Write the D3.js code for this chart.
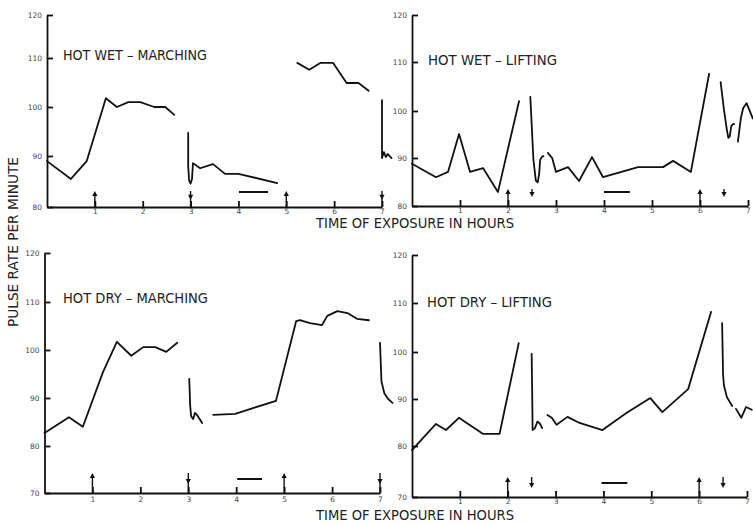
<!DOCTYPE html>
<meta charset="utf-8">
<script src="https://d3js.org/d3.v7.min.js"></script>
<style>
    body { margin: 0; background: #fff; }
    .tick text { font-family: "DejaVu Sans", sans-serif; font-size: 7.5px; fill: #444; }
    .trace { fill: none; stroke: #111; stroke-width: 1.8; stroke-linejoin: round; stroke-linecap: round; }
    .lbl { font-family: "DejaVu Sans", sans-serif; fill: #222; }
</style>
<div id="vis"></div>
<script>
    // tick values
    var hourTicks = [1, 2, 3, 4, 5, 6, 7];
    var pulseTicksWet = [80, 90, 100, 110, 120];
    var pulseTicksDry = [70, 80, 90, 100, 110, 120];

    // pulse traces, one list of pen strokes per panel, points are [hour, pulse]
    var hotWetMarching = [
        [[0, 89.0], [0.5, 85.5], [0.83, 89.0], [1.23, 101.8], [1.46, 100], [1.7, 101], [1.95, 101], [2.24, 100], [2.47, 100], [2.66, 98.4]],
        [[2.95, 94.7], [2.95, 88], [2.97, 85.2], [3.0, 84.6], [3.03, 85.5], [3.05, 88.6], [3.2, 87.6], [3.47, 88.4], [3.72, 86.5], [4.0, 86.5], [4.81, 84.7]],
        [[5.23, 109.0], [5.48, 107.6], [5.71, 109.0], [5.98, 109.0], [6.26, 104.9], [6.51, 104.9], [6.72, 103.3]],
        [[7.0, 101.4], [7.0, 89.6], [7.04, 90.8], [7.08, 89.8], [7.12, 90.4], [7.2, 89.6]]
    ];
    var hotWetLifting = [
        [[0, 88.8], [0.5, 86.0], [0.75, 87.1], [0.98, 95.1], [1.21, 87.1], [1.48, 87.9], [1.79, 82.9], [2.23, 102.0]],
        [[2.465, 102.9], [2.53, 89.6], [2.58, 85.3], [2.62, 84.9], [2.65, 86.8], [2.67, 89.6], [2.71, 90.3], [2.74, 90.4]],
        [[2.83, 91.1], [2.92, 90], [3.0, 87.1], [3.25, 88.1], [3.48, 85.2], [3.75, 90.2], [3.98, 86.0], [4.71, 88.1], [5.23, 88.1], [5.44, 89.4], [5.81, 87.1], [6.19, 107.6]],
        [[6.43, 105.9], [6.5, 100.2], [6.56, 96.0], [6.59, 94.3], [6.62, 94.6], [6.65, 96.7], [6.68, 97.2], [6.71, 97.2]],
        [[6.79, 93.5], [6.85, 98.4], [6.9, 100.6], [6.97, 101.6], [7.1, 98.4]]
    ];
    var hotDryMarching = [
        [[0, 82.7], [0.51, 86.0], [0.8, 84.0], [1.22, 95.4], [1.51, 101.7], [1.81, 98.8], [2.06, 100.6], [2.31, 100.6], [2.54, 99.6], [2.77, 101.5]],
        [[3.02, 94.0], [3.04, 88.3], [3.06, 86.2], [3.1, 85.6], [3.14, 86.9], [3.18, 86.5], [3.29, 84.8]],
        [[3.52, 86.5], [3.98, 86.7], [4.35, 87.9], [4.83, 89.4], [5.25, 106.0], [5.33, 106.2], [5.54, 105.6], [5.79, 105.2], [5.9, 107.1], [6.11, 108.1], [6.32, 107.7], [6.52, 106.5], [6.77, 106.2]],
        [[7.0, 101.5], [7.03, 93.5], [7.09, 91.0], [7.17, 89.8], [7.26, 89.0]]
    ];
    var hotDryLifting = [
        [[0, 79.2], [0.5, 84.7], [0.71, 83.4], [0.98, 86.0], [1.48, 82.6], [1.83, 82.6], [2.23, 101.8]],
        [[2.5, 99.6], [2.51, 92.6], [2.52, 83.4], [2.57, 83.8], [2.62, 85.2], [2.67, 84.8], [2.72, 83.8]],
        [[2.83, 86.6], [2.92, 86.0], [3.02, 84.5], [3.25, 86.2], [3.5, 84.9], [3.98, 83.4], [4.48, 87.0], [4.98, 90.2], [5.23, 87.2], [5.77, 92.1], [6.25, 108.2]],
        [[6.48, 105.9], [6.5, 95.1], [6.52, 92.8], [6.58, 90.4], [6.69, 88.5]],
        [[6.77, 87.9], [6.88, 86.0], [6.98, 88.3], [7.1, 87.7]]
    ];

    // arrows (start / stop of work) and the rest bar, in hours
    var wetMarchUp = [1, 5], wetMarchDown = [3, 7], wetMarchBar = [4.01, 4.62];
    var wetLiftUp = [2, 6], wetLiftDown = [2.5, 6.5], wetLiftBar = [4.0, 4.54];
    var dryMarchUp = [1, 5], dryMarchDown = [3, 7], dryMarchBar = [4.02, 4.54];
    var dryLiftUp = [2, 6], dryLiftDown = [2.5, 6.5], dryLiftBar = [3.96, 4.5];

    var W = 753, H = 524;
    var svg = d3.select("#vis").append("svg")
        .attr("width", W).attr("height", H);

    // hand drawn axes are not quite even, so the y range is given per tick
    var panels = [
        { title: "HOT WET \u2013 MARCHING", data: hotWetMarching, ups: wetMarchUp, downs: wetMarchDown, bar: wetMarchBar,
          yt: pulseTicksWet, xr: [47, 382], yr: [207, 156, 107, 58, 15], tx: 63, ty: 60, tw: 144, arr: 16, barOff: 15, pad: 2 },
        { title: "HOT WET \u2013 LIFTING", data: hotWetLifting, ups: wetLiftUp, downs: wetLiftDown, bar: wetLiftBar,
          yt: pulseTicksWet, xr: [412, 748], yr: [206, 158, 111, 62, 15], tx: 428, ty: 65, tw: 129, arr: 17, barOff: 14, pad: 2 },
        { title: "HOT DRY \u2013 MARCHING", data: hotDryMarching, ups: dryMarchUp, downs: dryMarchDown, bar: dryMarchBar,
          yt: pulseTicksDry, xr: [44.5, 380], yr: [493, 446, 398, 350, 302, 253], tx: 63, ty: 303, tw: 145, arr: 20, barOff: 14, pad: 4 },
        { title: "HOT DRY \u2013 LIFTING", data: hotDryLifting, ups: dryLiftUp, downs: dryLiftDown, bar: dryLiftBar,
          yt: pulseTicksDry, xr: [412, 747], yr: [497, 446, 399, 352, 303, 255], tx: 427, ty: 307, tw: 125, arr: 20, barOff: 14, pad: 2 }
    ];

    panels.forEach(function (p) {
        var x = d3.scaleLinear().domain([0, 7]).range(p.xr);
        var y = d3.scaleLinear().domain(p.yt).range(p.yr);
        var g = svg.append("g");
        var base = p.yr[0];

        // axes
        g.append("g")
            .attr("transform", "translate(0," + base + ")")
            .call(d3.axisBottom(x).tickValues(hourTicks).tickFormat(d3.format("d"))
                .tickSizeInner(-6).tickSizeOuter(0).tickPadding(p.pad));
        g.append("g")
            .attr("transform", "translate(" + p.xr[0] + ",0)")
            .call(d3.axisLeft(y).tickValues(p.yt).tickFormat(d3.format("d"))
                .tickSizeInner(-6).tickSizeOuter(0).tickPadding(5));
        g.selectAll(".domain, .tick line").attr("stroke", "#111").attr("stroke-width", 1.8);

        // traces
        var line = d3.line()
            .x(function (d) { return x(d[0]); })
            .y(function (d) { return y(d[1]); });
        g.selectAll(".trace").data(p.data).enter()
            .append("path")
            .attr("class", "trace")
            .attr("d", line);

        // up arrows
        p.ups.forEach(function (h) {
            var cx = x(h), top = base - p.arr;
            g.append("line").attr("x1", cx).attr("x2", cx).attr("y1", base).attr("y2", top + 2)
                .attr("stroke", "#111").attr("stroke-width", 1.4);
            g.append("path").attr("d", "M" + (cx - 2.6) + "," + (top + 5) + "L" + cx + "," + top + "L" + (cx + 2.6) + "," + (top + 5) + "Z")
                .attr("fill", "#111");
        });
        // down arrows, reaching the axis only on whole hours
        p.downs.forEach(function (h) {
            var cx = x(h), top = base - p.arr;
            var onAxis = h === Math.round(h);
            var tip = onAxis ? base - p.arr * 0.45 : base - 9;
            g.append("line").attr("x1", cx).attr("x2", cx).attr("y1", top).attr("y2", onAxis ? base : tip - 2)
                .attr("stroke", "#111").attr("stroke-width", 1.4);
            g.append("path").attr("d", "M" + (cx - 2.6) + "," + (tip - 5) + "L" + cx + "," + tip + "L" + (cx + 2.6) + "," + (tip - 5) + "Z")
                .attr("fill", "#111");
        });
        // rest bar
        g.append("line")
            .attr("x1", x(p.bar[0])).attr("x2", x(p.bar[1]))
            .attr("y1", base - p.barOff).attr("y2", base - p.barOff)
            .attr("stroke", "#111").attr("stroke-width", 2);

        // panel title
        g.append("text").attr("class", "lbl")
            .attr("x", p.tx).attr("y", p.ty)
            .attr("textLength", p.tw).attr("lengthAdjust", "spacingAndGlyphs")
            .style("font-size", "13.5px")
            .text(p.title);
    });

    // shared axis titles
    [228, 520].forEach(function (yy) {
        svg.append("text").attr("class", "lbl")
            .attr("x", 316).attr("y", yy)
            .attr("textLength", 198).attr("lengthAdjust", "spacingAndGlyphs")
            .style("font-size", "13.5px")
            .text("TIME OF EXPOSURE IN HOURS");
    });
    svg.append("text").attr("class", "lbl")
        .attr("transform", "translate(18,242) rotate(-90)")
        .attr("text-anchor", "middle")
        .attr("textLength", 170).attr("lengthAdjust", "spacingAndGlyphs")
        .style("font-size", "14px")
        .text("PULSE RATE PER MINUTE");
</script>
